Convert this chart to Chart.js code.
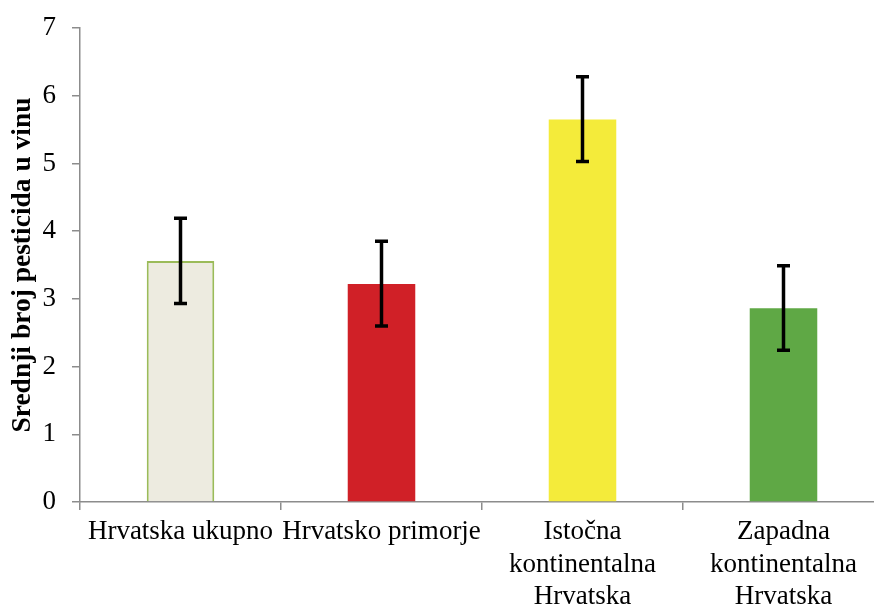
<!DOCTYPE html>
<html>
<head>
<meta charset="utf-8">
<script src="https://cdn.jsdelivr.net/npm/chart.js@4.4.1/dist/chart.umd.min.js"></script>
<style>
  html, body { margin: 0; padding: 0; background: #ffffff; overflow: hidden; }
  #wrap { width: 884px; height: 605px; position: relative; }
</style>
</head>
<body>
<div id="wrap"><canvas id="c" width="884" height="605"></canvas></div>
<script>
// Regions and mean number of pesticides per wine, with the spread shown as error bars
const categories = [
  'Hrvatska ukupno',
  'Hrvatsko primorje',
  ['Istočna', 'kontinentalna', 'Hrvatska'],
  ['Zapadna', 'kontinentalna', 'Hrvatska']
];
const means = [3.56, 3.22, 5.65, 2.86];
const errLow = [2.93, 2.60, 5.03, 2.24];
const errHigh = [4.19, 3.85, 6.28, 3.49];
const yTicks = [0, 1, 2, 3, 4, 5, 6, 7];

const fillColors = ['#EDEBE0', '#D02027', '#F4EB3A', '#5FA845'];
const edgeColors = ['#9BBB59', '#D02027', '#F4EB3A', '#5FA845'];
const axisGray = '#8C8C8C';
const serif = "'Liberation Serif', 'Times New Roman', serif";

// Draws the vertical whiskers with end caps over each bar
const errorBars = {
  id: 'errorBars',
  afterDatasetsDraw(chart) {
    const ctx = chart.ctx;
    const y = chart.scales.y;
    const meta = chart.getDatasetMeta(0);
    ctx.save();
    ctx.strokeStyle = '#000000';
    ctx.lineCap = 'butt';
    meta.data.forEach((bar, i) => {
      const x = bar.x;
      const yLo = y.getPixelForValue(errLow[i]);
      const yHi = y.getPixelForValue(errHigh[i]);
      ctx.lineWidth = 3.5;
      ctx.beginPath();
      ctx.moveTo(x, yHi);
      ctx.lineTo(x, yLo);
      ctx.stroke();
      ctx.beginPath();
      ctx.moveTo(x - 6.5, yHi);
      ctx.lineTo(x + 6.5, yHi);
      ctx.moveTo(x - 6.5, yLo);
      ctx.lineTo(x + 6.5, yLo);
      ctx.stroke();
    });
    ctx.restore();
  }
};

new Chart(document.getElementById('c'), {
  type: 'bar',
  data: {
    labels: categories,
    datasets: [{
      data: means,
      backgroundColor: fillColors,
      borderColor: edgeColors,
      borderWidth: [2, 0, 0, 0],
      categoryPercentage: 1.0,
      barPercentage: 0.336
    }]
  },
  options: {
    responsive: false,
    animation: false,
    devicePixelRatio: 1,
    layout: { padding: { top: 28, left: 0, right: 0, bottom: 0 } },
    plugins: {
      legend: { display: false },
      tooltip: { enabled: false }
    },
    scales: {
      x: {
        grid: {
          display: true,
          drawOnChartArea: false,
          drawTicks: true,
          tickLength: 8,
          color: axisGray,
          lineWidth: 1.5,
          offset: true
        },
        border: { display: true, color: axisGray, width: 1.5 },
        ticks: {
          color: '#000000',
          font: { family: serif, size: 27, lineHeight: 1.2 },
          maxRotation: 0,
          minRotation: 0,
          autoSkip: false,
          padding: 6
        },
        afterFit(scale) { scale.height = 103; }
      },
      y: {
        min: 0,
        max: 7,
        afterBuildTicks(scale) { scale.ticks = yTicks.map(v => ({ value: v })); },
        grid: {
          display: true,
          drawOnChartArea: false,
          drawTicks: true,
          tickLength: 8,
          color: axisGray,
          lineWidth: 1.5
        },
        border: { display: true, color: axisGray, width: 1.5 },
        ticks: {
          color: '#000000',
          font: { family: serif, size: 27 },
          padding: 16
        },
        title: {
          display: true,
          text: 'Srednji broj pesticida u vinu',
          color: '#000000',
          font: { family: serif, size: 27.5, weight: 'bold' },
          padding: { top: 6, bottom: 0 }
        },
        afterFit(scale) {
          scale.width = 80;
          scale.paddingTop = 0;
          scale.paddingBottom = 0;
        }
      }
    }
  },
  plugins: [errorBars]
});
</script>
</body>
</html>
